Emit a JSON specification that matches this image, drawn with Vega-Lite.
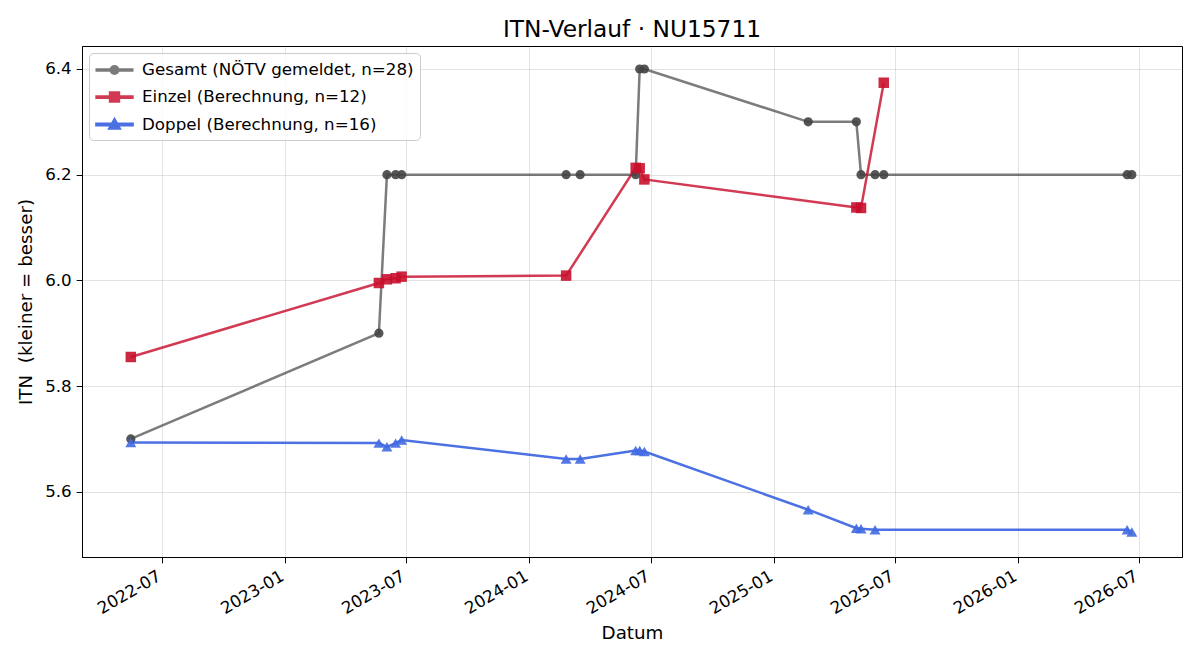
{
  "$schema": "https://vega.github.io/schema/vega-lite/v6.json",
  "autosize": {"type": "none"},
  "padding": {"left": 82, "top": 46, "right": 18, "bottom": 103},
  "width": 1100,
  "height": 511,
  "title": {"text": "ITN-Verlauf · NU15711", "fontSize": 23.3, "fontWeight": "normal", "font": "DejaVu Sans", "color": "black", "anchor": "middle", "baseline": "alphabetic", "offset": 10, "dy": 24, "frame": "group"},
  "config": {
    "font": "DejaVu Sans",
    "view": {"stroke": "black", "strokeWidth": 1},
    "axis": {"labelFont": "DejaVu Sans", "labelFontSize": 16.7, "labelColor": "black", "titleFont": "DejaVu Sans", "titleFontSize": 18.3, "titleFontWeight": "normal", "titleColor": "black", "tickColor": "black", "tickSize": 5.8, "labelPadding": 5, "domainColor": "black", "gridColor": "#b0b0b0", "gridOpacity": 0.35, "gridWidth": 1},
    "legend": {
      "orient": "top-left", "offset": 7, "padding": 6,
      "labelFont": "DejaVu Sans", "labelFontSize": 16.7, "labelColor": "black", "labelOffset": 24, "labelLimit": 0,
      "symbolSize": 400, "rowPadding": 6.5, "symbolOpacity": 0.8, "symbolStrokeWidth": 0.8,
      "fillColor": "rgba(255,255,255,0.8)", "strokeColor": "#cccccc", "cornerRadius": 4
    }
  },
  "data": {"values": [
    {"series": "Gesamt (NÖTV gemeldet, n=28)", "date": "2022-05-15", "itn": 5.70},
    {"series": "Gesamt (NÖTV gemeldet, n=28)", "date": "2023-05-21", "itn": 5.90},
    {"series": "Gesamt (NÖTV gemeldet, n=28)", "date": "2023-06-02", "itn": 6.20},
    {"series": "Gesamt (NÖTV gemeldet, n=28)", "date": "2023-06-15", "itn": 6.20},
    {"series": "Gesamt (NÖTV gemeldet, n=28)", "date": "2023-06-24", "itn": 6.20},
    {"series": "Gesamt (NÖTV gemeldet, n=28)", "date": "2024-02-25", "itn": 6.20},
    {"series": "Gesamt (NÖTV gemeldet, n=28)", "date": "2024-03-17", "itn": 6.20},
    {"series": "Gesamt (NÖTV gemeldet, n=28)", "date": "2024-06-08", "itn": 6.20},
    {"series": "Gesamt (NÖTV gemeldet, n=28)", "date": "2024-06-14", "itn": 6.40},
    {"series": "Gesamt (NÖTV gemeldet, n=28)", "date": "2024-06-21", "itn": 6.40},
    {"series": "Gesamt (NÖTV gemeldet, n=28)", "date": "2025-02-21", "itn": 6.30},
    {"series": "Gesamt (NÖTV gemeldet, n=28)", "date": "2025-05-04", "itn": 6.30},
    {"series": "Gesamt (NÖTV gemeldet, n=28)", "date": "2025-05-11", "itn": 6.20},
    {"series": "Gesamt (NÖTV gemeldet, n=28)", "date": "2025-06-01", "itn": 6.20},
    {"series": "Gesamt (NÖTV gemeldet, n=28)", "date": "2025-06-14", "itn": 6.20},
    {"series": "Gesamt (NÖTV gemeldet, n=28)", "date": "2026-06-13", "itn": 6.20},
    {"series": "Gesamt (NÖTV gemeldet, n=28)", "date": "2026-06-20", "itn": 6.20},
    {"series": "Einzel (Berechnung, n=12)", "date": "2022-05-15", "itn": 5.855},
    {"series": "Einzel (Berechnung, n=12)", "date": "2023-05-21", "itn": 5.995},
    {"series": "Einzel (Berechnung, n=12)", "date": "2023-06-02", "itn": 6.002},
    {"series": "Einzel (Berechnung, n=12)", "date": "2023-06-15", "itn": 6.004},
    {"series": "Einzel (Berechnung, n=12)", "date": "2023-06-24", "itn": 6.007},
    {"series": "Einzel (Berechnung, n=12)", "date": "2024-02-25", "itn": 6.009},
    {"series": "Einzel (Berechnung, n=12)", "date": "2024-06-08", "itn": 6.213},
    {"series": "Einzel (Berechnung, n=12)", "date": "2024-06-14", "itn": 6.212},
    {"series": "Einzel (Berechnung, n=12)", "date": "2024-06-21", "itn": 6.191},
    {"series": "Einzel (Berechnung, n=12)", "date": "2025-05-04", "itn": 6.138},
    {"series": "Einzel (Berechnung, n=12)", "date": "2025-05-11", "itn": 6.137},
    {"series": "Einzel (Berechnung, n=12)", "date": "2025-06-14", "itn": 6.374},
    {"series": "Doppel (Berechnung, n=16)", "date": "2022-05-15", "itn": 5.693},
    {"series": "Doppel (Berechnung, n=16)", "date": "2023-05-21", "itn": 5.692},
    {"series": "Doppel (Berechnung, n=16)", "date": "2023-06-02", "itn": 5.685},
    {"series": "Doppel (Berechnung, n=16)", "date": "2023-06-15", "itn": 5.692},
    {"series": "Doppel (Berechnung, n=16)", "date": "2023-06-24", "itn": 5.698},
    {"series": "Doppel (Berechnung, n=16)", "date": "2024-02-25", "itn": 5.662},
    {"series": "Doppel (Berechnung, n=16)", "date": "2024-03-17", "itn": 5.662},
    {"series": "Doppel (Berechnung, n=16)", "date": "2024-06-08", "itn": 5.678},
    {"series": "Doppel (Berechnung, n=16)", "date": "2024-06-14", "itn": 5.678},
    {"series": "Doppel (Berechnung, n=16)", "date": "2024-06-21", "itn": 5.676},
    {"series": "Doppel (Berechnung, n=16)", "date": "2025-02-21", "itn": 5.566},
    {"series": "Doppel (Berechnung, n=16)", "date": "2025-05-04", "itn": 5.531},
    {"series": "Doppel (Berechnung, n=16)", "date": "2025-05-11", "itn": 5.530},
    {"series": "Doppel (Berechnung, n=16)", "date": "2025-06-01", "itn": 5.528},
    {"series": "Doppel (Berechnung, n=16)", "date": "2026-06-13", "itn": 5.528},
    {"series": "Doppel (Berechnung, n=16)", "date": "2026-06-20", "itn": 5.524}
  ]},
  "encoding": {
    "x": {
      "field": "date", "type": "temporal", "title": "Datum",
      "scale": {"type": "utc", "domain": [{"year": 2022, "month": 3, "date": 3, "utc": true}, {"year": 2026, "month": 9, "date": 3, "utc": true}], "nice": false},
      "axis": {
        "values": [
          {"year": 2022, "month": 7, "date": 1, "utc": true},
          {"year": 2023, "month": 1, "date": 1, "utc": true},
          {"year": 2023, "month": 7, "date": 1, "utc": true},
          {"year": 2024, "month": 1, "date": 1, "utc": true},
          {"year": 2024, "month": 7, "date": 1, "utc": true},
          {"year": 2025, "month": 1, "date": 1, "utc": true},
          {"year": 2025, "month": 7, "date": 1, "utc": true},
          {"year": 2026, "month": 1, "date": 1, "utc": true},
          {"year": 2026, "month": 7, "date": 1, "utc": true}
        ],
        "format": "%Y-%m", "labelAngle": -30, "labelAlign": "right", "labelBaseline": "top", "labelOverlap": false, "labelOffset": -7, "titlePadding": 7, "labelFlush": false
      }
    },
    "y": {
      "field": "itn", "type": "quantitative", "title": "ITN\u00a0 (kleiner = besser)",
      "scale": {"domain": [5.4765, 6.4435], "nice": false, "zero": false},
      "axis": {"values": [5.6, 5.8, 6.0, 6.2, 6.4], "format": ".1f", "titlePadding": 9, "labelFlush": false}
    },
    "color": {
      "field": "series", "type": "nominal",
      "scale": {"domain": ["Gesamt (NÖTV gemeldet, n=28)", "Einzel (Berechnung, n=12)", "Doppel (Berechnung, n=16)"], "range": ["#444444", "#c8102e", "#4169e1"]},
      "legend": {"title": null}
    }
  },
  "layer": [
    {
      "mark": {"type": "point", "filled": true, "opacity": 0},
      "encoding": {
        "shape": {"field": "series", "type": "nominal", "legend": {"title": null},
          "scale": {"domain": ["Gesamt (NÖTV gemeldet, n=28)", "Einzel (Berechnung, n=12)", "Doppel (Berechnung, n=16)"],
            "range": [
              "M-1,-0.07H2.6V0.07H-1Z M1.2,0A0.4,0.4,0,1,1,0.4,0A0.4,0.4,0,1,1,1.2,0Z",
              "M-1,-0.07H2.6V0.07H-1Z M0.35,-0.45H1.25V0.45H0.35Z",
              "M-1,-0.07H2.6V0.07H-1Z M0.8,-0.5L1.3,0.4H0.3Z"
            ]}}
      }
    },
    {
      "mark": {"type": "line", "strokeWidth": 2.5},
      "encoding": {
        "opacity": {"field": "series", "type": "nominal", "scale": {"domain": ["Gesamt (NÖTV gemeldet, n=28)", "Einzel (Berechnung, n=12)", "Doppel (Berechnung, n=16)"], "range": [0.7, 0.95, 0.85]}, "legend": null},
        "strokeWidth": {"field": "series", "type": "nominal", "scale": {"domain": ["Gesamt (NÖTV gemeldet, n=28)", "Einzel (Berechnung, n=12)", "Doppel (Berechnung, n=16)"], "range": [2, 2.7, 2.7]}, "legend": null}
      }
    },
    {
      "transform": [{"filter": "datum.series === 'Gesamt (NÖTV gemeldet, n=28)'"}],
      "mark": {"type": "point", "filled": true, "opacity": 0.9, "shape": "circle", "size": 85}
    },
    {
      "transform": [{"filter": "datum.series === 'Einzel (Berechnung, n=12)'"}],
      "mark": {"type": "point", "filled": true, "opacity": 0.9, "shape": "square", "size": 110}
    },
    {
      "transform": [{"filter": "datum.series === 'Doppel (Berechnung, n=16)'"}],
      "mark": {"type": "point", "filled": true, "opacity": 0.9, "shape": "triangle-up", "size": 120}
    }
  ]
}
